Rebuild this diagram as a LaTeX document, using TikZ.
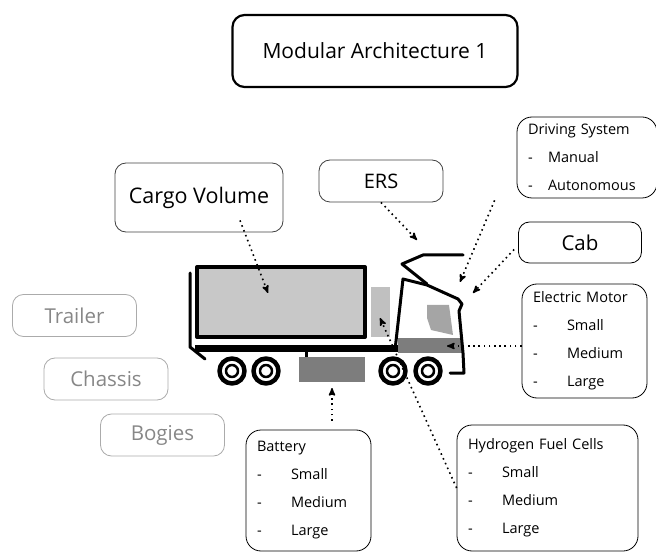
\documentclass[tikz,border=0pt]{standalone}
\usepackage{fontspec}
\setmainfont{Open Sans}
\usetikzlibrary{arrows}
\definecolor{cargogray}{RGB}{200,200,200}
\definecolor{partgray}{RGB}{125,125,125}
\definecolor{lightpart}{RGB}{192,192,192}
\definecolor{windowgray}{RGB}{165,165,165}
\definecolor{fadedgray}{RGB}{135,135,135}
\newcommand{\opt}[2][34pt]{\makebox[#1][l]{-}#2}

\begin{document}
\begin{tikzpicture}[x=1pt,y=-1pt,>=stealth',line join=round]
 \tikzstyle{every node}=[font=\fontsize{14.5}{28}\selectfont]
 \tikzstyle{box}=[draw,rounded corners=11pt,line width=0.8pt]
 \tikzstyle{faded}=[box,draw=fadedgray!70,text=fadedgray,font=\fontsize{20.5}{24}\selectfont,minimum width=124,minimum height=42]
 \tikzstyle{listbox}=[box,rounded corners=15pt,align=left,inner xsep=11pt]
 \tikzstyle{pointer}=[->,dash pattern=on 1.6pt off 3.6pt,line width=1.6pt]
 \tikzstyle{frame}=[line width=3pt,line cap=round]

   \useasboundingbox (0,0) rectangle (656,553);

   % labels
   \node[box,line width=2.2pt,rounded corners=12pt,minimum width=285,minimum height=72,font=\fontsize{21}{24}\selectfont] (title) at (375,51) {Modular Architecture 1};
   \node[box,draw=black!75,minimum width=168,minimum height=69,font=\fontsize{21.5}{24}\selectfont] (cargo) at (199,197.5) {Cargo Volume};
   \node[box,draw=black!75,minimum width=124,minimum height=42,font=\fontsize{20}{24}\selectfont] (ers) at (381,181) {ERS};
   \node[box,minimum width=123,minimum height=41,font=\fontsize{20.5}{24}\selectfont] (cab) at (580,242.5) {Cab};
   \node[listbox,minimum width=140,minimum height=81,text width=118] (drive) at (587,157.5)
      {Driving System\\ \opt[20pt]{Manual}\\ \opt[20pt]{Autonomous}};
   \node[listbox,minimum width=125,minimum height=114,text width=103] (motor) at (584.5,341)
      {Electric Motor\\ \opt{Small}\\ \opt{Medium}\\ \opt{Large}};
   \node[listbox,minimum width=125,minimum height=121,text width=103] (battery) at (308.5,490.5)
      {Battery\\ \opt{Small}\\ \opt{Medium}\\ \opt{Large}};
   \node[listbox,minimum width=181,minimum height=126,text width=159] (hydrogen) at (547.5,488)
      {Hydrogen Fuel Cells\\ \opt{Small}\\ \opt{Medium}\\ \opt{Large}};
   \node[faded] (trailer) at (74.5,315.5) {Trailer};
   \node[faded] (chassis) at (106,379) {Chassis};
   \node[faded] (bogies) at (162.5,435) {Bogies};

   % truck
   \draw[line width=4pt,fill=cargogray] (197,267) rectangle (365,337);
   \draw[frame] (190,273) -- (190,347) -- (205,359);
   \draw[line width=7pt] (195,348.5) -- (398,348.5);
   \draw[frame] (306,351) -- (306,358);
   \fill[partgray] (299,357) rectangle (365,382);
   \fill[lightpart] (371,287) rectangle (390,337);
   \fill[partgray] (398,338) rectangle (462,353);
   \fill[windowgray] (427,305) -- (449,305) -- (453,335) -- (431,330) -- (427,318) -- cycle;
   \draw[frame] (395,350) -- (403,279) -- (427,285) -- (458,299) -- (462,304) -- (459,311)
      -- (463,353) -- (464,373) -- (450,373);
   \draw[frame] (427,284) -- (402,264) -- (423,255) -- (463,255);
   \foreach \x in {232,266,393,428} {
     \draw[line width=4.5pt,fill=white] (\x,371) circle (12.5);
     \draw[line width=2.5pt] (\x,371) circle (6);
   }

   % where the arrows point
   \coordinate (boxtip) at (268,293);
   \coordinate (erstip) at (417,240);
   \coordinate (drivetip) at (460,282);
   \coordinate (cabtip) at (473,293);
   \coordinate (motortip) at (447,346);
   \coordinate (batterytip) at (332,388);
   \coordinate (celltip) at (380,318);

   \draw[pointer] ([xshift=41pt,yshift=12pt]cargo.south) -- (boxtip);
   \draw[pointer] (ers.south) -- (erstip);
   \draw[pointer] ([xshift=-22pt,yshift=-2pt]drive.south west) -- (drivetip);
   \draw[pointer] ([xshift=-4pt,yshift=-7pt]cab.west) -- (cabtip);
   \draw[pointer] (motor.west |- motortip) -- (motortip);
   \draw[pointer,shorten <=9pt] (battery.north -| batterytip) -- (batterytip);
   \draw[pointer] (hydrogen.west) -- (celltip);

\end{tikzpicture}
\end{document}
